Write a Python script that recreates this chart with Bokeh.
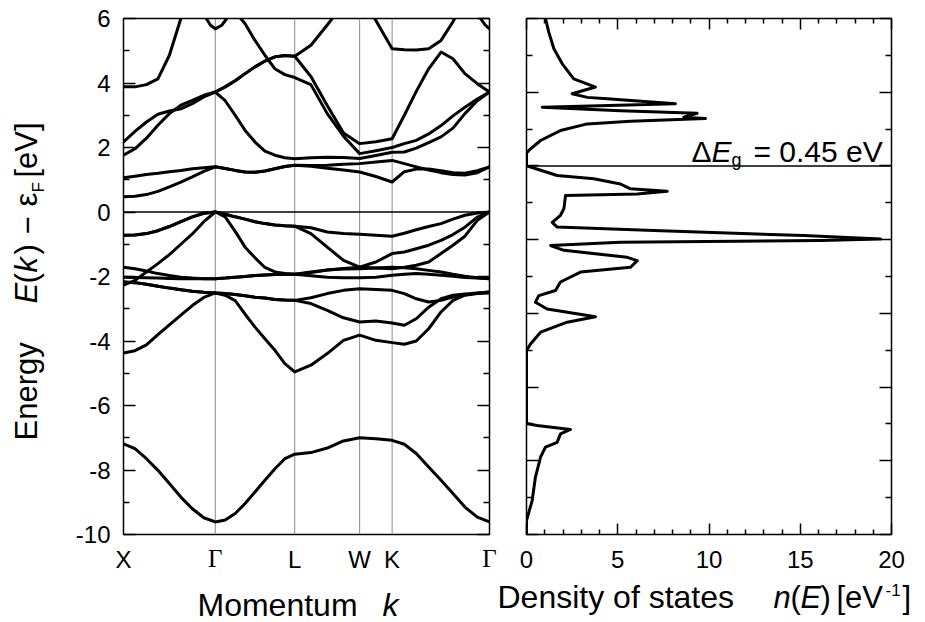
import math
from bokeh.plotting import figure
from bokeh.models import Range1d, FixedTicker, LinearAxis, Span, Label
from bokeh.layouts import row, column
from bokeh.embed import file_html
from bokeh.resources import INLINE

nan = float("nan")

# ---------------- data: band structure ----------------
k_points = [0.0, 1.0, 1.866, 2.573, 2.927, 3.988]
k_labels = ["X", "Γ", "L", "W", "K", "Γ"]

k_grid = [0.0, 0.125, 0.25, 0.375, 0.5, 0.625, 0.75, 0.875, 1.0,
          1.108, 1.217, 1.325, 1.433, 1.541, 1.65, 1.758, 1.866,
          2.042, 2.22, 2.397, 2.573,
          2.75, 2.927,
          3.06, 3.19, 3.325, 3.46, 3.59, 3.72, 3.855, 3.988]

band_v1 = [-7.19, -7.34, -7.65, -8.01, -8.42, -8.84, -9.20, -9.48, -9.61,
           -9.55, -9.35, -9.04, -8.68, -8.32, -7.96, -7.65, -7.51,
           -7.46, -7.32, -7.10, -7.00,
           -7.03, -7.08,
           -7.20, -7.49, -7.91, -8.32, -8.73, -9.15, -9.46, -9.61]
band_v2 = [-4.37, -4.30, -4.12, -3.80, -3.50, -3.20, -2.90, -2.65, -2.51,
           -2.58, -2.75, -3.17, -3.57, -3.93, -4.29, -4.70, -4.96,
           -4.75, -4.39, -3.98, -3.82,
           -3.98, -4.05,
           -4.10, -4.00, -3.62, -3.10, -2.74, -2.58, -2.53, -2.51]
band_c1 = [-2.17, -2.19, -2.24, -2.30, -2.36, -2.41, -2.46, -2.49, -2.51,
           -2.53, -2.56, -2.60, -2.64, -2.67, -2.71, -2.73, -2.74,
           -2.66, -2.53, -2.43, -2.38,
           -2.40, -2.43,
           -2.53, -2.69, -2.79, -2.74, -2.64, -2.57, -2.52, -2.48]
band_c2 = [-2.17, -2.19, -2.24, -2.30, -2.36, -2.41, -2.46, -2.49, -2.51,
           -2.53, -2.56, -2.60, -2.64, -2.67, -2.71, -2.73, -2.74,
           -2.84, -3.05, -3.28, -3.41,
           -3.38, -3.44,
           -3.51, -3.31, -2.95, -2.69, -2.58, -2.54, -2.51, -2.48]
band_a1 = [-1.71, -1.76, -1.83, -1.91, -1.97, -2.02, -2.05, -2.07, -2.07,
           -2.05, -2.02, -2.00, -1.97, -1.95, -1.94, -1.93, -1.93,
           -1.86, -1.80, -1.77, -1.76,
           -1.74, -1.71,
           -1.73, -1.76, -1.81, -1.86, -1.93, -1.99, -2.04, -2.07]
band_a2 = [-2.02, -2.03, -2.04, -2.05, -2.06, -2.07, -2.07, -2.07, -2.07,
           -2.05, -2.02, -2.00, -1.97, -1.95, -1.94, -1.93, -1.93,
           -1.98, -2.02, -2.04, -2.04,
           -2.02, -1.96,
           -1.93, -1.91, -1.93, -1.96, -1.99, -2.03, -2.05, -2.07]
band_b = [-2.27, -2.12, -1.86, -1.60, -1.32, -1.00, -0.68, -0.30, 0.0,
          -0.15, -0.60, -1.09, -1.42, -1.72, -1.86, -1.91, -1.93,
          -1.88, -1.80, -1.75, -1.71,
          -1.74, -1.76,
          -1.71, -1.65, -1.55, -1.29, -1.03, -0.75, -0.26, 0.0]
band_e1 = [-0.72, -0.71, -0.67, -0.58, -0.45, -0.30, -0.15, -0.04, 0.0,
           -0.07, -0.15, -0.22, -0.30, -0.36, -0.40, -0.43, -0.44,
           -0.49, -0.62, -0.67, -0.69,
           -0.72, -0.75,
           -0.66, -0.55, -0.45, -0.36, -0.22, -0.10, -0.03, 0.0]
band_e2 = [-0.72, -0.71, -0.67, -0.58, -0.45, -0.30, -0.15, -0.04, 0.0,
           -0.07, -0.15, -0.22, -0.30, -0.36, -0.40, -0.43, -0.44,
           -0.67, -1.09, -1.50, -1.71,
           -1.55, -1.29,
           -1.24, -1.14, -1.03, -0.88, -0.70, -0.47, -0.16, 0.0]
band_cb1 = [0.47, 0.49, 0.54, 0.64, 0.78, 0.93, 1.09, 1.26, 1.40,
            1.35, 1.29, 1.24, 1.23, 1.27, 1.34, 1.41, 1.45,
            1.44, 1.45, 1.48, 1.50,
            1.55, 1.60,
            1.50, 1.40, 1.30, 1.22, 1.16, 1.15, 1.22, 1.40]
band_cb2 = [1.06, 1.11, 1.16, 1.20, 1.25, 1.29, 1.34, 1.37, 1.40,
            1.35, 1.29, 1.24, 1.23, 1.27, 1.34, 1.41, 1.45,
            1.42, 1.36, 1.30, 1.24,
            1.10, 0.93,
            1.25, 1.33, 1.33, 1.28, 1.22, 1.20, 1.28, 1.40]
band_cb3 = [1.76, 1.96, 2.29, 2.69, 3.05, 3.31, 3.46, 3.62, 3.72,
            3.45, 3.00, 2.53, 2.17, 1.89, 1.76, 1.68, 1.65,
            1.68, 1.70, 1.69, 1.66,
            1.75, 1.85,
            1.86, 1.98, 2.15, 2.33, 2.60, 3.05, 3.45, 3.72]
band_cb4 = [2.17, 2.50, 2.79, 3.03, 3.13, 3.20, 3.36, 3.57, 3.72,
            3.88, 4.07, 4.29, 4.50, 4.68, 4.81, 4.85, 4.83,
            4.20, 3.30, 2.45, 2.12,
            2.18, 2.27,
            3.00, 3.74, 4.44, 4.96, 4.75, 4.29, 3.98, 3.72]
band_cb5 = [nan, nan, nan, nan, nan, nan, nan, nan, 3.72,
            3.88, 4.07, 4.29, 4.50, 4.68, 4.81, 4.85, 4.83,
            5.17, 5.80, 6.45, nan,
            nan, nan,
            nan, nan, nan, nan, nan, nan, nan, nan]
band_cb6 = [nan, nan, nan, nan, nan, nan, nan, nan, 6.90,
            6.55, 6.20, 5.84, 5.32, 4.86, 4.44, 4.26, 4.17,
            3.95, 3.05, 2.35, 1.81,
            1.90, 2.00,
            2.12, 2.22, 2.42, 2.68, 2.98, 3.25, 3.50, 3.72]
band_cb7 = [3.88, 3.88, 3.95, 4.13, 4.86, 6.00, 7.00, nan, nan,
            nan, nan, nan, nan, nan, nan, nan, nan,
            nan, nan, nan, nan,
            nan, nan,
            nan, nan, nan, nan, nan, nan, nan, nan]
band_cb8 = [nan, nan, nan, nan, nan, nan, nan, nan, nan,
            nan, nan, nan, nan, nan, nan, nan, nan,
            nan, nan, nan, 6.80,
            5.94, 5.06,
            5.03, 5.02, 5.06, 5.32, 5.90, 6.60, nan, nan]

dip_left_k = [0.87, 0.904, 0.948, 1.0, 1.07, 1.125, 1.16]
dip_left_e = [6.30, 5.99, 5.79, 5.68, 5.79, 6.00, 6.30]
dip_right_k = [3.85, 3.89, 3.94, 3.988]
dip_right_e = [6.30, 6.00, 5.80, 5.68]

bands = [band_v1, band_v2, band_c1, band_c2, band_a1, band_a2, band_b,
         band_e1, band_e2, band_cb1, band_cb2, band_cb3, band_cb4,
         band_cb5, band_cb6, band_cb7, band_cb8]

# ---------------- data: density of states ----------------
dos_n = [1.04, 1.22, 1.50, 1.96, 2.59, 3.78, 2.50, 3.33, 4.42, 8.16,
         0.86, 5.15, 9.35, 8.62, 9.81, 5.70, 3.33, 1.86, 0.77, 0.13,
         0.00, 0.00, 0.22, 1.68, 3.69, 5.15, 5.70, 7.71, 6.07, 2.14,
         2.05, 1.86, 1.41, 1.68, 6.98, 15.19, 19.40, 16.11, 5.15, 1.32,
         2.05, 5.52, 6.07, 5.70, 2.96, 1.86, 1.59, 0.67, 0.49, 1.13,
         3.78, 2.23, 0.77, 0.22, 0.00, 0.00, 0.58, 2.41, 1.86, 1.68,
         1.04, 0.77, 0.49, 0.31, 0.00, 0.00]
dos_e = [4.00, 3.63, 3.18, 2.77, 2.36, 2.14, 1.96, 1.86, 1.82, 1.69,
         1.59, 1.50, 1.43, 1.32, 1.29, 1.21, 1.14, 0.96, 0.69, 0.42,
         0.35, 0.00, -0.03, -0.26, -0.35, -0.49, -0.62, -0.69, -0.76, -0.80,
         -1.16, -1.34, -1.53, -1.66, -1.75, -1.89, -1.98, -2.02, -2.07, -2.16,
         -2.29, -2.48, -2.57, -2.75, -2.88, -3.15, -3.38, -3.52, -3.70, -3.88,
         -4.09, -4.24, -4.51, -4.83, -5.01, -6.99, -7.04, -7.15, -7.27, -7.50,
         -7.63, -7.90, -8.44, -9.08, -9.62, -9.97]

energy_ticks_left = [-10, -8, -6, -4, -2, 0, 2, 4, 6]
energy_minor_left = [-9, -7, -5, -3, -1, 1, 3, 5]
energy_ticks_dos = [-10, -8, -6, -4, -2, 0, 2, 4]
energy_minor_dos = [-9, -7, -5, -3, -1, 1, 3]
dos_ticks = [0, 5, 10, 15, 20]
dos_minor = [1, 2, 3, 4, 6, 7, 8, 9, 11, 12, 13, 14, 16, 17, 18, 19]
gap_text = "= 0.45 eV"

# ---------------- layout helpers (page pixels -> data) ----------------
FONT = "Liberation Sans"
K_MAX = k_points[-1]
MID = 0.3465   # distance from alphabetic baseline to the middle of the text box, in em
TOP_H = 543    # height of the upper row (panels incl. borders)
STRIP_W = 112  # width of the left strip with y tick labels and y title


def p1x(px):
    return (px - 123) / 366 * K_MAX


def p1y(py):
    return 6 - (py - 18) / 516 * 16


def p2x(px):
    return (px - 526) / 365 * 20


def p2y(py):
    return 4 - (py - 18) / 516 * 14


def styled_axis(ticker, major_in=12, minor_in=6):
    ax = LinearAxis(ticker=ticker)
    ax.axis_line_color = None
    ax.major_tick_in = major_in
    ax.major_tick_out = 0
    ax.minor_tick_in = minor_in
    ax.minor_tick_out = 0
    ax.major_tick_line_width = 1.5
    ax.minor_tick_line_width = 1.5
    ax.major_tick_line_color = "black"
    ax.minor_tick_line_color = "black"
    ax.major_label_text_font = FONT
    ax.major_label_text_font_size = "0px"
    ax.major_label_standoff = 0
    ax.major_label_overrides = {t: "" for t in ticker.ticks}
    return ax


def blank_fig(width, height, x_range, y_range):
    f = figure(width=width, height=height, x_range=x_range, y_range=y_range,
               output_backend="svg", toolbar_location=None,
               min_border=0, x_axis_type=None, y_axis_type=None,
               outline_line_color=None, background_fill_color="white",
               border_fill_color="white")
    f.xgrid.visible = False
    f.ygrid.visible = False
    return f


def add_text(fig, x, y, txt, size, style="normal", font=FONT, align="left", angle=0.0):
    fig.add_layout(Label(x=x, y=y, text=txt, angle=angle, text_font=font,
                         text_font_style=style, text_font_size=f"{size}px",
                         text_align=align, text_baseline="middle",
                         text_color="black"))


# ---------------- left panel: band structure ----------------
p1 = figure(frame_width=366, frame_height=516,
            x_range=Range1d(0, K_MAX), y_range=Range1d(-10, 6),
            output_backend="svg", toolbar_location=None,
            min_border_left=123 - STRIP_W, min_border_right=8,
            min_border_top=18, min_border_bottom=TOP_H - 534,
            x_axis_type=None, y_axis_type=None,
            outline_line_color="black", outline_line_width=1.5,
            background_fill_color="white", border_fill_color="white")
p1.xgrid.visible = False
p1.ygrid.visible = False

p1.add_layout(styled_axis(FixedTicker(ticks=energy_ticks_left, minor_ticks=energy_minor_left)), "left")
p1.add_layout(styled_axis(FixedTicker(ticks=energy_ticks_left, minor_ticks=energy_minor_left)), "right")

for kp in k_points[1:-1]:
    p1.add_layout(Span(location=kp, dimension="height", line_color="#8a8a8a",
                       line_width=1, level="underlay"))
p1.add_layout(Span(location=0, dimension="width", line_color="black", line_width=1.5))

for band in bands:
    p1.line(k_grid, band, line_color="black", line_width=3, line_join="round", line_cap="round")
p1.line(dip_left_k, dip_left_e, line_color="black", line_width=3, line_join="round")
p1.line(dip_right_k, dip_right_e, line_color="black", line_width=3, line_join="round")

# ---------------- right panel: density of states ----------------
p2 = figure(frame_width=365, frame_height=516,
            x_range=Range1d(0, 20), y_range=Range1d(-10, 4),
            output_backend="svg", toolbar_location=None,
            min_border_left=29, min_border_right=34,
            min_border_top=18, min_border_bottom=TOP_H - 534,
            x_axis_type=None, y_axis_type=None,
            outline_line_color="black", outline_line_width=1.5,
            background_fill_color="white", border_fill_color="white")
p2.xgrid.visible = False
p2.ygrid.visible = False

p2.add_layout(styled_axis(FixedTicker(ticks=dos_ticks, minor_ticks=dos_minor), 11, 5), "below")
p2.add_layout(styled_axis(FixedTicker(ticks=dos_ticks, minor_ticks=dos_minor), 11, 5), "above")
p2.add_layout(styled_axis(FixedTicker(ticks=energy_ticks_dos, minor_ticks=energy_minor_dos)), "left")
p2.add_layout(styled_axis(FixedTicker(ticks=energy_ticks_dos, minor_ticks=energy_minor_dos)), "right")

p2.add_layout(Span(location=0, dimension="width", line_color="black", line_width=1.5))
p2.line(dos_n, dos_e, line_color="black", line_width=3, line_join="round")

# (text, left x px, baseline y px, style, font px)
gap_parts = [
    ("Δ", 691, 161.0, "normal", 30),
    ("E", 711, 161.0, "italic", 30),
    ("g", 731, 166.0, "normal", 18),
    (gap_text, 753, 161.0, "normal", 30),
]
for txt, px, py, style, fs in gap_parts:
    add_text(p2, p2x(px), p2y(py - MID * fs), txt, fs, style)

# ---------------- left strip: energy tick labels + y title (same energy scale as p1) ----------------
ylab = blank_fig(STRIP_W, 622, Range1d(0, STRIP_W), Range1d(p1y(622), p1y(0)))
for t in energy_ticks_left:
    add_text(ylab, 110, t, str(t), 24, align="right")
# (text, start y px, style, font px, baseline x px)
ylab_parts = [
    ("Energy", 440, "normal", 31, 37),
    ("E", 303, "italic", 31, 37),
    ("(", 283, "normal", 31, 37),
    ("k", 272, "italic", 31, 37),
    (")", 254, "normal", 31, 37),
    ("−", 234, "normal", 31, 37),
    ("ε", 206, "normal", 31, 37),
    ("F", 192, "normal", 17, 44),
    ("[eV]", 177, "normal", 31, 37),
]
for txt, py, style, fs, px in ylab_parts:
    add_text(ylab, px - MID * fs, p1y(py), txt, fs, style, angle=math.pi / 2)

# ---------------- bottom strips: k labels, DOS tick labels, axis titles ----------------
b1 = blank_fig(497 - STRIP_W, 622 - TOP_H, Range1d(p1x(STRIP_W), p1x(497)), Range1d(622, TOP_H))
for kp, lab in zip(k_points, k_labels):
    if lab == "Γ":
        add_text(b1, kp, 567 - MID * 25, lab, 25, font="Liberation Serif", align="center")
    else:
        add_text(b1, kp, 567 - MID * 24, lab, 24, align="center")
add_text(b1, p1x(197), 616 - MID * 32, "Momentum", 32)
add_text(b1, p1x(382), 616 - MID * 32, "k", 32, style="italic")

b2 = blank_fig(428, 622 - TOP_H, Range1d(p2x(497), p2x(925)), Range1d(622, TOP_H))
for t in dos_ticks:
    add_text(b2, t, 567 - MID * 24, str(t), 24, align="center")
xlab2 = [
    ("Density of states", 497, 608, "normal", 32),
    ("n", 773, 608, "italic", 31),
    ("(", 790, 608, "normal", 31),
    ("E", 800, 608, "italic", 31),
    (")", 820, 608, "normal", 31),
    ("[eV", 836, 608, "normal", 31),
    ("-1", 885, 595, "normal", 17),
    ("]", 902, 608, "normal", 31),
]
for txt, px, py, style, fs in xlab2:
    add_text(b2, p2x(px), py - MID * fs, txt, fs, style)

layout = row(ylab, column(row(p1, p2), row(b1, b2)))
open("out.html", "w").write(file_html(layout, INLINE))
